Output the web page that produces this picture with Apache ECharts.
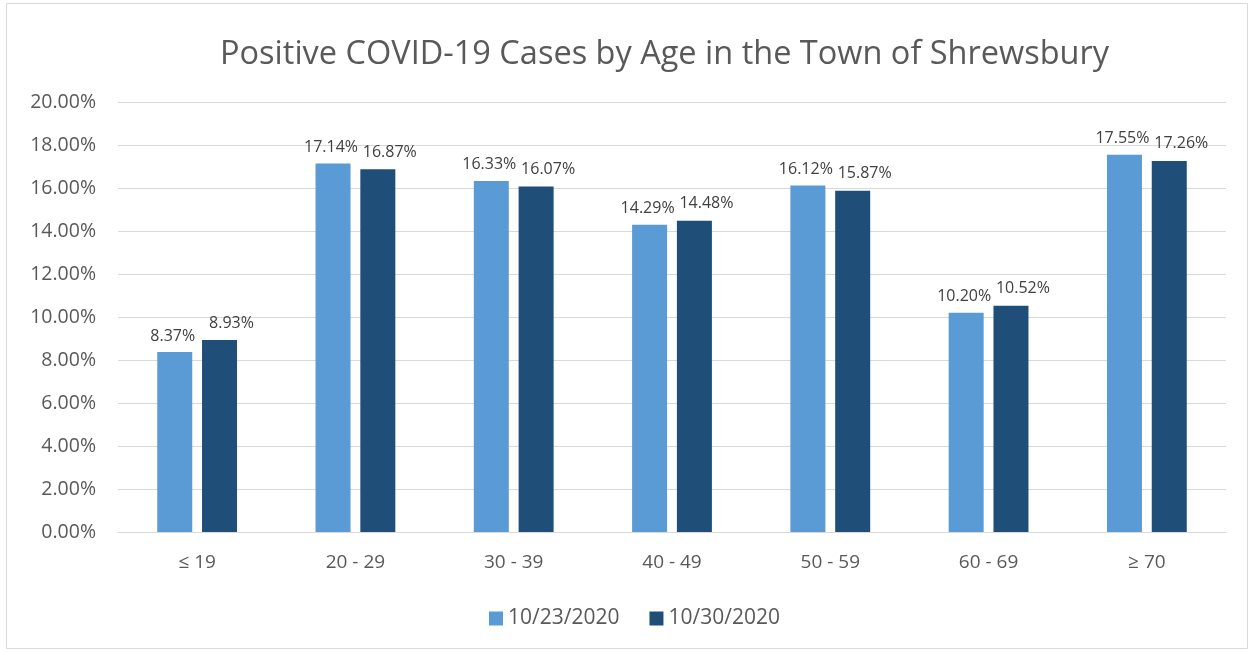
<!DOCTYPE html>
<html><head><meta charset="utf-8">
<script src="https://cdn.jsdelivr.net/npm/echarts@6/dist/echarts.min.js"></script>
<style>html,body{margin:0;padding:0;background:#fff}#c{width:1252px;height:652px}</style>
</head><body><div id="c"></div>
<script>
const categories = ['≤ 19','20 - 29','30 - 39','40 - 49','50 - 59','60 - 69','≥ 70'];
const seriesNames = ['10/23/2020','10/30/2020'];
const values1023 = [8.37,17.14,16.33,14.29,16.12,10.20,17.55];
const values1030 = [8.93,16.87,16.07,14.48,15.87,10.52,17.26];
const titleText = 'Positive COVID-19 Cases by Age in the Town of Shrewsbury';
const FONT = '"Open Sans", "Noto Sans", sans-serif';
const chart = echarts.init(document.getElementById('c'));
const fmt = p => p.value.toFixed(2) + '%';
const lblBase = {show:true, position:'top', distance:8, color:'#404040', fontSize:16, fontFamily:FONT, formatter: fmt};
chart.setOption({
  animation:false,
  textStyle:{fontFamily:FONT},
  title:{text:titleText, left:215, top:33, textStyle:{fontSize:32.5, fontWeight:'normal', color:'#595959', fontFamily:FONT}},
  graphic:[{type:'rect', shape:{x:6.5,y:3.5,width:1241,height:645}, style:{fill:'none', stroke:'#D9D9D9', lineWidth:1}, silent:true}],
  legend:{top:603, left:484, itemWidth:14, itemHeight:14, itemGap:30, icon:'rect',
    textStyle:{fontSize:21, color:'#595959', fontFamily:FONT}, data:seriesNames},
  grid:{left:118, right:26, top:102, bottom:120},
  xAxis:{type:'category', data:categories,
    axisLine:{lineStyle:{color:'#D9D9D9', width:1}}, axisTick:{show:false},
    axisLabel:{color:'#595959', fontSize:19, margin:21, fontFamily:FONT}},
  yAxis:{type:'value', min:0, max:20, interval:2,
    axisLine:{show:false}, axisTick:{show:false},
    splitLine:{lineStyle:{color:'#D9D9D9', width:1}},
    axisLabel:{color:'#595959', fontSize:19.5, margin:22, fontFamily:FONT, formatter: v => v.toFixed(2) + '%'}},
  series:[
    {name:seriesNames[0], type:'bar', data:values1023, barWidth:35, barGap:'28%', itemStyle:{color:'#5B9BD5'},
      label:Object.assign({}, lblBase, {offset:[-2,0]})},
    {name:seriesNames[1], type:'bar', data:values1030, barWidth:35, itemStyle:{color:'#1F4E79'},
      label:Object.assign({}, lblBase, {offset:[12,-1]})}
  ]
});
</script></body></html>
